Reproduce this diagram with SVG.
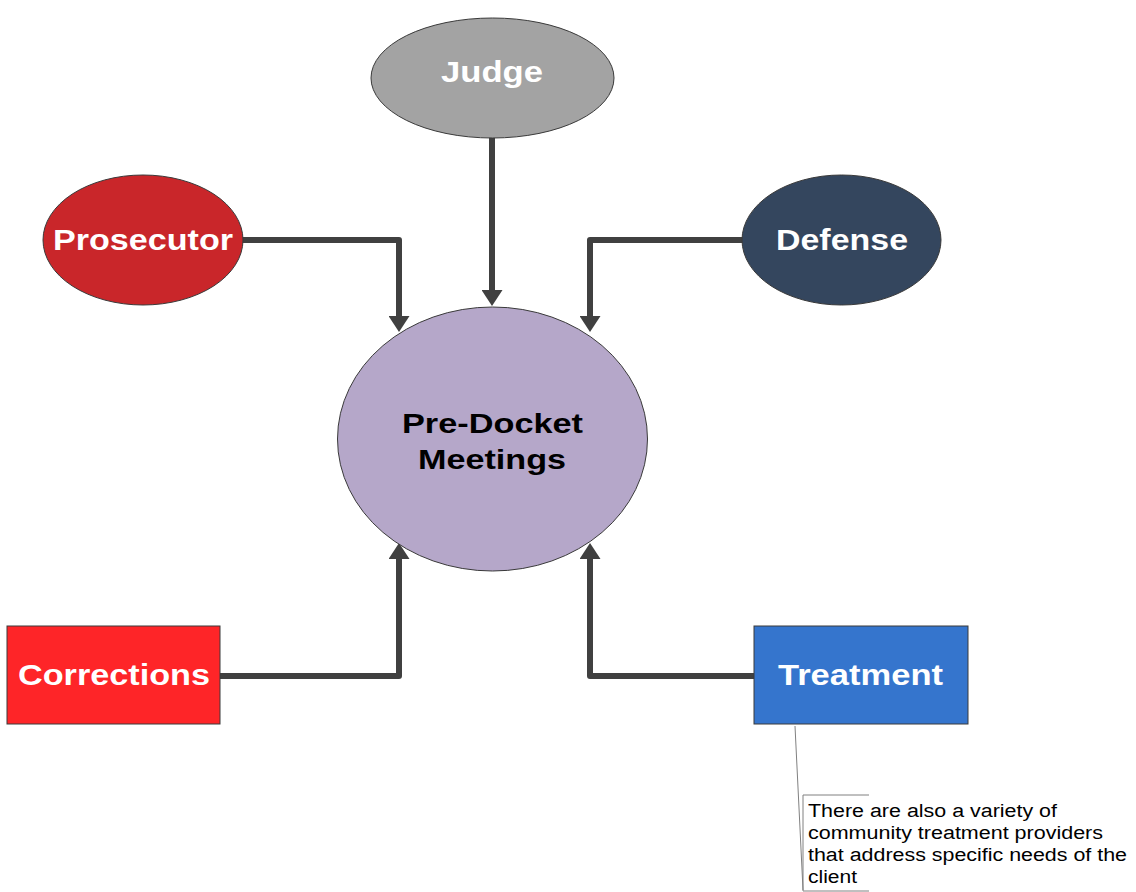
<svg xmlns="http://www.w3.org/2000/svg" width="1136" height="892" viewBox="0 0 1136 892">
<style>
.lbl{font-family:"Liberation Sans",Arial,sans-serif;font-weight:bold;fill:#ffffff;text-anchor:start}
.ctr{font-family:"Liberation Sans",Arial,sans-serif;font-weight:bold;fill:#000000}
.note{font-family:"Liberation Sans",Arial,sans-serif;font-size:18px;fill:#000000}
.conn{fill:none;stroke:#404040;stroke-width:6;stroke-linejoin:round;stroke-linecap:round}
.shape{stroke:#3a3a3a;stroke-width:1}
</style>
<defs>
<marker id="arr" viewBox="0 0 16 21" refX="6" refY="10.5" markerWidth="16" markerHeight="21" markerUnits="userSpaceOnUse" orient="auto">
<path d="M0,0 L16,10.5 L0,21 Z" fill="#404040"/>
</marker>
</defs>
<rect width="1136" height="892" fill="#ffffff"/>
<g id="connectors">
<path class="conn" d="M243,240 H399 V322" marker-end="url(#arr)"/>
<path class="conn" d="M492,138 V296" marker-end="url(#arr)"/>
<path class="conn" d="M742,240 H590 V322" marker-end="url(#arr)"/>
<path class="conn" d="M220,676 H399 V553" marker-end="url(#arr)"/>
<path class="conn" d="M754,676 H590 V553" marker-end="url(#arr)"/>
</g>
<g id="center">
<ellipse class="shape" cx="492.5" cy="439" rx="155" ry="132" fill="#b5a7c9"/>
<text class="ctr" x="402" y="433" font-size="28" textLength="181" lengthAdjust="spacingAndGlyphs">Pre-Docket</text>
<text class="ctr" x="418" y="469" font-size="28" textLength="148" lengthAdjust="spacingAndGlyphs">Meetings</text>
</g>
<g id="judge">
<ellipse class="shape" cx="492.5" cy="78" rx="121.5" ry="60" fill="#a3a3a3"/>
<text class="lbl" x="441" y="82" font-size="30" textLength="102" lengthAdjust="spacingAndGlyphs">Judge</text>
</g>
<g id="prosecutor">
<ellipse class="shape" cx="143" cy="240" rx="100" ry="65" fill="#c9262a"/>
<text class="lbl" x="53" y="250" font-size="30" textLength="180" lengthAdjust="spacingAndGlyphs">Prosecutor</text>
</g>
<g id="defense">
<ellipse class="shape" cx="841.5" cy="240" rx="99.5" ry="65" fill="#34465e"/>
<text class="lbl" x="776" y="250" font-size="30" textLength="132" lengthAdjust="spacingAndGlyphs">Defense</text>
</g>
<g id="corrections">
<rect class="shape" x="7" y="626" width="213" height="98" fill="#fe2528"/>
<text class="lbl" x="18" y="685" font-size="30" textLength="192" lengthAdjust="spacingAndGlyphs">Corrections</text>
</g>
<g id="treatment">
<rect class="shape" x="754" y="626" width="214" height="98" fill="#3575cd"/>
<text class="lbl" x="778" y="685" font-size="30" textLength="165" lengthAdjust="spacingAndGlyphs">Treatment</text>
</g>
<g id="callout">
<path d="M795,726 L803,890" fill="none" stroke="#808080" stroke-width="1"/>
<path d="M869,795 H803 V891 H869" fill="none" stroke="#808080" stroke-width="1"/>
<text class="note" x="808" y="817" textLength="249" lengthAdjust="spacingAndGlyphs">There are also a variety of</text>
<text class="note" x="808" y="839" textLength="295" lengthAdjust="spacingAndGlyphs">community treatment providers</text>
<text class="note" x="808" y="861" textLength="319" lengthAdjust="spacingAndGlyphs">that address specific needs of the</text>
<text class="note" x="808" y="883" textLength="49" lengthAdjust="spacingAndGlyphs">client</text>
</g>
</svg>
